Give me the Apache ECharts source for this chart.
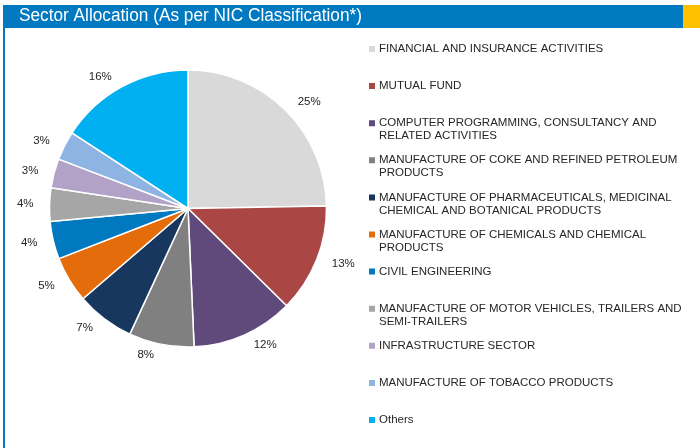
<!DOCTYPE html>
<html><head><meta charset="utf-8">
<script src="https://cdn.jsdelivr.net/npm/echarts@6/dist/echarts.min.js"></script>
<style>html,body{margin:0;padding:0;background:#fff}#c{width:700px;height:448px}</style>
</head><body><div id="c"></div>
<script>
var title = 'Sector Allocation (As per NIC Classification*)';
var categories = [
  'FINANCIAL AND INSURANCE ACTIVITIES',
  'MUTUAL FUND',
  'COMPUTER PROGRAMMING, CONSULTANCY AND RELATED ACTIVITIES',
  'MANUFACTURE OF COKE AND REFINED PETROLEUM PRODUCTS',
  'MANUFACTURE OF PHARMACEUTICALS, MEDICINAL CHEMICAL AND BOTANICAL PRODUCTS',
  'MANUFACTURE OF CHEMICALS AND CHEMICAL PRODUCTS',
  'CIVIL ENGINEERING',
  'MANUFACTURE OF MOTOR VEHICLES, TRAILERS AND SEMI-TRAILERS',
  'INFRASTRUCTURE SECTOR',
  'MANUFACTURE OF TOBACCO PRODUCTS',
  'Others'
];
var legendLines = [
  ['FINANCIAL AND INSURANCE ACTIVITIES'],
  ['MUTUAL FUND'],
  ['COMPUTER PROGRAMMING, CONSULTANCY AND', 'RELATED ACTIVITIES'],
  ['MANUFACTURE OF COKE AND REFINED PETROLEUM', 'PRODUCTS'],
  ['MANUFACTURE OF PHARMACEUTICALS, MEDICINAL', 'CHEMICAL AND BOTANICAL PRODUCTS'],
  ['MANUFACTURE OF CHEMICALS AND CHEMICAL', 'PRODUCTS'],
  ['CIVIL ENGINEERING'],
  ['MANUFACTURE OF MOTOR VEHICLES, TRAILERS AND', 'SEMI-TRAILERS'],
  ['INFRASTRUCTURE SECTOR'],
  ['MANUFACTURE OF TOBACCO PRODUCTS'],
  ['Others']
];
var values = [24.7, 12.7, 11.9, 7.6, 6.8, 5.4, 4.4, 3.9, 3.4, 3.4, 15.8];
var colors = ['#D9D9D9', '#AA4643', '#604A7B', '#808080', '#17375E', '#E46C0A', '#0079C1', '#A6A6A6', '#B3A2C7', '#8EB4E3', '#00B0F0'];

var chart = echarts.init(document.getElementById('c'), null, {renderer: 'canvas'});
var font = '"Liberation Sans", Arial, sans-serif';
var titleFont = '18px "Liberation Sans", Arial, sans-serif';
var ctx = document.createElement('canvas').getContext('2d');
ctx.font = titleFont;
var titleScale = 343 / ctx.measureText(title).width;

var lh = 13;
var legends = categories.map(function (name, i) {
  var lines = legendLines[i];
  var text = lines.length > 1 ? '\n' + lines.join('\n') : lines[0];
  var n = lines.length > 1 ? 3 : 1;
  var centerY = 49 + i * 37.1;
  return {
    data: [name],
    left: 367,
    top: centerY - n * lh / 2,
    orient: 'vertical',
    padding: 0,
    itemWidth: 8,
    itemHeight: 8,
    itemGap: 0,
    icon: 'rect',
    selectedMode: false,
    formatter: function () { return text; },
    textStyle: {fontFamily: font, fontSize: 11.5, color: '#262626', lineHeight: lh, padding: [0, 0, 0, -2]}
  };
});

chart.setOption({
  animation: false,
  color: colors,
  graphic: [
    {type: 'rect', shape: {x: 3, y: 5, width: 697, height: 23}, style: {fill: '#0079C1'}, silent: true},
    {type: 'rect', shape: {x: 683, y: 5, width: 17, height: 23}, style: {fill: '#FFC000'}, silent: true},
    {type: 'rect', shape: {x: 3, y: 28, width: 2, height: 420}, style: {fill: '#0079C1'}, silent: true},
    {type: 'text', x: 19, y: 16, scaleX: titleScale, style: {text: title, fill: '#fff', font: titleFont, verticalAlign: 'middle', align: 'left'}, silent: true}
  ],
  legend: legends,
  series: [{
    type: 'pie',
    center: [188, 208.5],
    radius: [0, 138.5],
    startAngle: 90,
    clockwise: true,
    avoidLabelOverlap: false,
    itemStyle: {borderColor: '#fff', borderWidth: 1.5},
    label: {
      show: true,
      position: 'outside',
      formatter: function (p) { return Math.round(p.percent) + '%'; },
      fontFamily: font,
      fontSize: 11.5,
      color: '#262626'
    },
    labelLine: {show: false, length: 11, length2: 0},
    emphasis: {disabled: true},
    data: categories.map(function (n, i) { return {name: n, value: values[i]}; })
  }]
});
</script>
</body></html>
